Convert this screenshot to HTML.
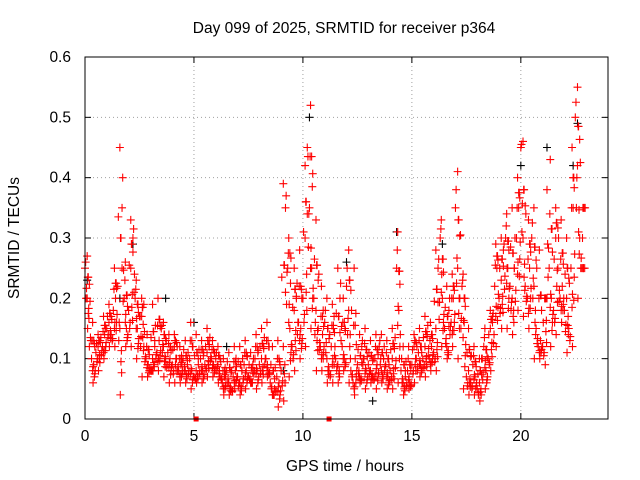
<!DOCTYPE html>
<html><head><meta charset="utf-8"><style>
body{margin:0;background:#fff}
svg{display:block;font-family:"Liberation Sans",sans-serif}
</style></head><body>
<svg id="chart" width="640" height="480" viewBox="0 0 640 480">
<text x="344" y="33" font-size="15.5" text-anchor="middle">Day 099 of 2025, SRMTID for receiver p364</text>
<text x="345" y="471" font-size="15.5" text-anchor="middle">GPS time / hours</text>
<text x="19" y="238" font-size="15.5" text-anchor="middle" transform="rotate(-90 19 238)">SRMTID / TECUs</text>
<g id="grid"></g>
<g id="axes"></g>
<g id="black"></g>
<g id="red"></g>
<rect x="85" y="57" width="523" height="362" fill="none" stroke="#000" stroke-width="1"/>
</svg>
<script>
const xTicks=[0,5,10,15,20];
const yTicks=[0,0.1,0.2,0.3,0.4,0.5,0.6];
const yTickLabels=["0","0.1","0.2","0.3","0.4","0.5","0.6"];
const mainStep=0.1;
const mainValues=[0.25,0.2,0.12,0.1,0.09,0.11,0.12,0.13,0.12,0.14,
0.15,0.16,0.14,0.18,0.2,0.22,0.15,0.35,0.2,0.15,
0.18,0.25,0.3,0.2,0.15,0.17,0.2,0.12,0.1,0.09,
0.08,0.1,0.12,0.11,0.13,0.15,0.12,0.1,0.11,0.1,
0.09,0.12,0.1,0.08,0.09,0.1,0.08,0.09,0.1,0.08,
0.07,0.08,0.09,0.1,0.08,0.09,0.11,0.12,0.1,0.09,
0.1,0.09,0.07,0.06,0.07,0.08,0.06,0.05,0.07,0.08,
0.07,0.06,0.08,0.09,0.08,0.07,0.06,0.09,0.1,0.08,
0.09,0.1,0.12,0.1,0.08,0.06,0.04,0.05,0.07,0.06,
0.08,0.12,0.35,0.25,0.15,0.12,0.18,0.2,0.16,0.15,
0.2,0.3,0.45,0.35,0.25,0.2,0.18,0.15,0.12,0.14,
0.16,0.1,0.08,0.12,0.15,0.1,0.09,0.2,0.12,0.1,
0.22,0.18,0.08,0.06,0.1,0.09,0.07,0.12,0.1,0.08,
0.09,0.08,0.07,0.1,0.09,0.12,0.08,0.1,0.09,0.07,
0.08,0.1,0.12,0.25,0.18,0.08,0.06,0.07,0.08,0.06,
0.09,0.12,0.1,0.11,0.09,0.1,0.12,0.14,0.1,0.12,
0.11,0.15,0.25,0.3,0.2,0.15,0.12,0.18,0.16,0.2,
0.35,0.25,0.2,0.22,0.16,0.07,0.08,0.06,0.09,0.07,
0.05,0.06,0.1,0.12,0.08,0.1,0.15,0.17,0.22,0.25,
0.2,0.23,0.28,0.3,0.25,0.22,0.2,0.25,0.3,0.35,
0.45,0.3,0.22,0.2,0.25,0.3,0.22,0.15,0.12,0.13,
0.12,0.2,0.38,0.25,0.2,0.18,0.3,0.25,0.2,0.22,
0.18,0.2,0.15,0.25,0.35,0.5,0.42,0.3,0.25];
const envStep=0.25;
const hiValues=[0.27,0.16,0.14,0.17,0.19,0.25,0.45,0.26,
0.33,0.23,0.17,0.14,0.19,0.2,0.16,0.14,
0.14,0.12,0.13,0.16,0.14,0.13,0.15,0.13,
0.12,0.1,0.11,0.12,0.12,0.13,0.11,0.14,
0.15,0.16,0.12,0.13,0.39,0.3,0.25,0.28,
0.42,0.52,0.33,0.22,0.2,0.19,0.25,0.2,
0.28,0.25,0.14,0.15,0.13,0.14,0.14,0.13,
0.15,0.31,0.12,0.12,0.14,0.15,0.17,0.16,
0.28,0.33,0.22,0.24,0.41,0.24,0.15,0.12,
0.1,0.15,0.18,0.29,0.3,0.34,0.35,0.4,
0.46,0.33,0.35,0.28,0.2,0.43,0.35,0.33,
0.3,0.45,0.55,0.35];
const loValues=[0.15,0.06,0.08,0.1,0.12,0.12,0.04,0.12,
0.12,0.1,0.07,0.07,0.08,0.08,0.07,0.06,
0.06,0.06,0.06,0.05,0.06,0.06,0.07,0.07,
0.06,0.04,0.04,0.05,0.04,0.05,0.06,0.05,
0.06,0.07,0.04,0.02,0.03,0.07,0.08,0.1,
0.12,0.15,0.08,0.08,0.06,0.06,0.06,0.08,
0.06,0.04,0.06,0.05,0.06,0.05,0.06,0.05,
0.05,0.06,0.04,0.05,0.06,0.07,0.07,0.08,
0.08,0.12,0.1,0.12,0.1,0.05,0.04,0.04,
0.03,0.05,0.08,0.12,0.15,0.15,0.14,0.18,
0.17,0.15,0.1,0.1,0.09,0.12,0.14,0.16,
0.11,0.12,0.2,0.25];
const blackTimes=[0.1,1.6,3.7,5.0,6.5,10.3,12.0,13.2,14.3,16.4,20.0,21.2,22.4,22.6,2.2,9.1];
const blackValues=[0.23,0.2,0.2,0.16,0.12,0.5,0.26,0.03,0.31,0.29,0.42,0.45,0.42,0.49,0.29,0.08];
const markerTimes=[5.1,11.2];
const markerValues=[0,0];

const X0=85,X1=608,Y0=419,Y1=57;
const xs=t=>X0+(t/24)*(X1-X0);
const ys=v=>Y0-(v/0.6)*(Y0-Y1);
const NS="http://www.w3.org/2000/svg";
function mk(tag,attrs,parent){const e=document.createElementNS(NS,tag);for(const k in attrs)e.setAttribute(k,attrs[k]);parent.appendChild(e);return e;}
const grid=document.getElementById('grid'),axes=document.getElementById('axes');
xTicks.forEach(t=>{
  const x=xs(t);
  if(t>0){const l=mk('line',{x1:x,x2:x,y1:Y0,y2:Y1,stroke:'#a0a0a0','stroke-dasharray':'1,3'},grid);
  
  }
  mk('line',{x1:x,x2:x,y1:Y0,y2:Y0-6,stroke:'#000'},axes);
  mk('line',{x1:x,x2:x,y1:Y1,y2:Y1+6,stroke:'#000'},axes);
  const tx=mk('text',{x:x,y:Y0+22,'font-size':'15.5','text-anchor':'middle'},axes);tx.textContent=t;
  
  
});
yTicks.forEach((v,i)=>{
  const y=ys(v);
  if(v>0&&v<0.6){const l=mk('line',{x1:X0,x2:X1,y1:y,y2:y,stroke:'#a0a0a0','stroke-dasharray':'1,3'},grid);
  
  }
  mk('line',{x1:X0,x2:X0+6,y1:y,y2:y,stroke:'#000'},axes);
  mk('line',{x1:X1,x2:X1-6,y1:y,y2:y,stroke:'#000'},axes);
  const tx=mk('text',{x:X0-14,y:y+5,'font-size':'15.5','text-anchor':'end'},axes);tx.textContent=yTickLabels[i];
  
  
});
function cross(g,t,v,color){
  const x=xs(t),y=ys(v);
  const p=mk('path',{d:`M${x-4},${y}h8M${x},${y-4}v8`,stroke:color,'stroke-width':'1.1',fill:'none'},g);
  
  
}
const black=document.getElementById('black'),red=document.getElementById('red');
blackTimes.forEach((t,i)=>cross(black,t,blackValues[i],'#000'));
mainValues.forEach((v,i)=>{
  const t=i*mainStep;
  const lo=loValues[Math.floor(t/envStep)]??v;
  const hi=hiValues[Math.floor(t/envStep)]??v;
  cross(red,t,v,'#f00');
  cross(red,t+0.05,(v+lo)/2,'#f00');
  cross(red,t+0.03,(v+hi)/2,'#f00');
  cross(red,t+0.07,(2*v+lo)/3,'#f00');
});
hiValues.forEach((v,i)=>{const t=i*envStep;cross(red,t+0.1,v,'#f00');const m=mainValues[Math.round((t+0.1)/mainStep)]??v;cross(red,t+0.15,(v+m)/2,'#f00');cross(red,t+0.2,(v+2*m)/3,'#f00');});
loValues.forEach((v,i)=>{const t=i*envStep;cross(red,t+0.12,v,'#f00');const m=mainValues[Math.round((t+0.12)/mainStep)]??v;cross(red,t+0.18,(2*v+m)/3,'#f00');});
markerTimes.forEach((t,i)=>{
  const r=mk('rect',{x:xs(t)-2.5,y:ys(markerValues[i])-2.5,width:5,height:5,fill:'#f00'},red);
  
  
});
</script>
</body></html>
